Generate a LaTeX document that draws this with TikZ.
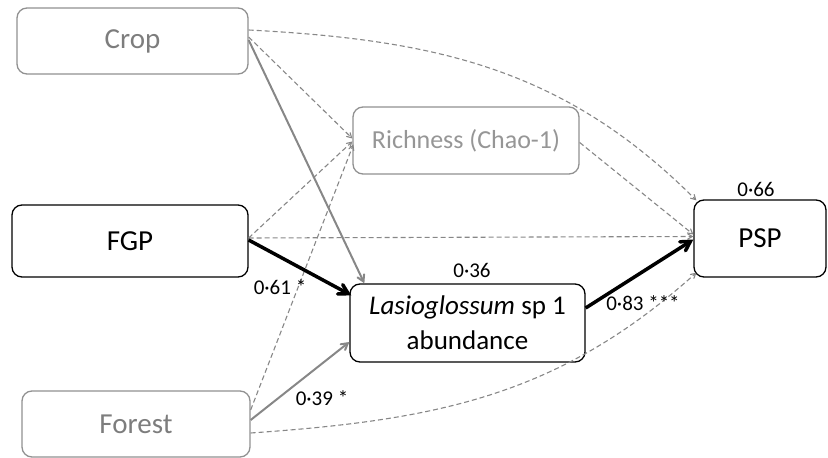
\documentclass[tikz,border=0pt]{standalone}
\usepackage{fontspec}
\setmainfont{Carlito}
\usepackage{tikz}
\usetikzlibrary{arrows}
\definecolor{boxgray}{RGB}{145,145,145}
\definecolor{txtgray}{RGB}{125,125,125}
\definecolor{lightgray}{RGB}{150,150,150}
\definecolor{linegray}{RGB}{135,135,135}

\begin{document}
\begin{tikzpicture}[>=angle 60,x=1pt,y=1pt,
    var node/.style={rectangle,rounded corners=10pt,draw,line width=1.3pt,align=center,inner sep=0pt},
    big node/.style={var node,font=\fontsize{29}{35}\selectfont},
    grey node/.style={draw=boxgray,text=txtgray},
    est node/.style={font=\fontsize{21}{25}\selectfont,inner sep=0pt},
    ns path/.style={every edge/.style={draw,->,draw=linegray,line width=1.1pt,dash pattern=on 5pt off 3pt}},
    gs path/.style={every edge/.style={draw,->,draw=linegray,line width=2pt}},
    sig path/.style={every edge/.style={draw,->,draw=black,line width=3.5pt}}]

  \useasboundingbox (0,0) rectangle (828,458);

  % exogenous variables
  \node[big node,grey node,minimum width=231pt,minimum height=66pt] (crop) at (132.5,417) {Crop};
  \node[big node,minimum width=236pt,minimum height=72pt] (fgp) at (130,217) {FGP};
  \node[big node,grey node,minimum width=228pt,minimum height=66pt] (forest) at (136,34) {Forest};

  % mediators and response
  \node[var node,grey node,text=lightgray,font=\fontsize{26}{30}\selectfont,
        minimum width=226pt,minimum height=67pt] (rich) at (466,317.5) {Richness (Chao-1)};
  \node[var node,font=\fontsize{27}{35}\selectfont,minimum width=235pt,minimum height=78pt]
        (lasio) at (467.5,135) {\textit{Lasioglossum} sp 1\\abundance};
  \node[big node,minimum width=132pt,minimum height=77pt] (psp) at (760,219.5) {PSP};

  % non significant paths
  \path[ns path]
    ([yshift=11pt]crop.east) edge[out=-3,in=135] ([xshift=3pt,yshift=-1pt]psp.north west)
    ([yshift=4pt]crop.east) edge ([yshift=2pt]rich.west)
    ([yshift=3pt]fgp.east) edge ([yshift=-1pt]rich.west)
    ([yshift=3pt]fgp.east) edge ([yshift=2pt]psp.west)
    ([yshift=14pt]forest.east) edge ([xshift=1pt,yshift=-4pt]rich.west)
    ([yshift=-9pt]forest.east) edge[out=4,in=-138] ([xshift=3pt,yshift=5pt]psp.south west)
    ([yshift=-2pt]rich.east) edge ([yshift=4pt]psp.west);

  % significant paths
  \path[gs path]
    ([yshift=1pt]crop.east) edge ([xshift=15pt]lasio.north west)
    ([yshift=4pt]forest.east) edge ([yshift=-19pt]lasio.west);
  \path[sig path]
    ([yshift=1pt]fgp.east) edge ([xshift=2pt,yshift=-12pt]lasio.north west)
    ([yshift=15pt]lasio.east) edge ([yshift=-1pt]psp.west);

  % estimates
  \node[est node] (r2psp) at (756,269) {0·66};
  \node[est node] (r2lasio) at (472,188) {0·36};
  \node[est node] (bfgp) at (280,171) {0·61 *};
  \node[est node] (bforest) at (322,60) {0·39 *};
  \node[est node] (blasio) at (643,155) {0·83 ***};
\end{tikzpicture}
\end{document}
